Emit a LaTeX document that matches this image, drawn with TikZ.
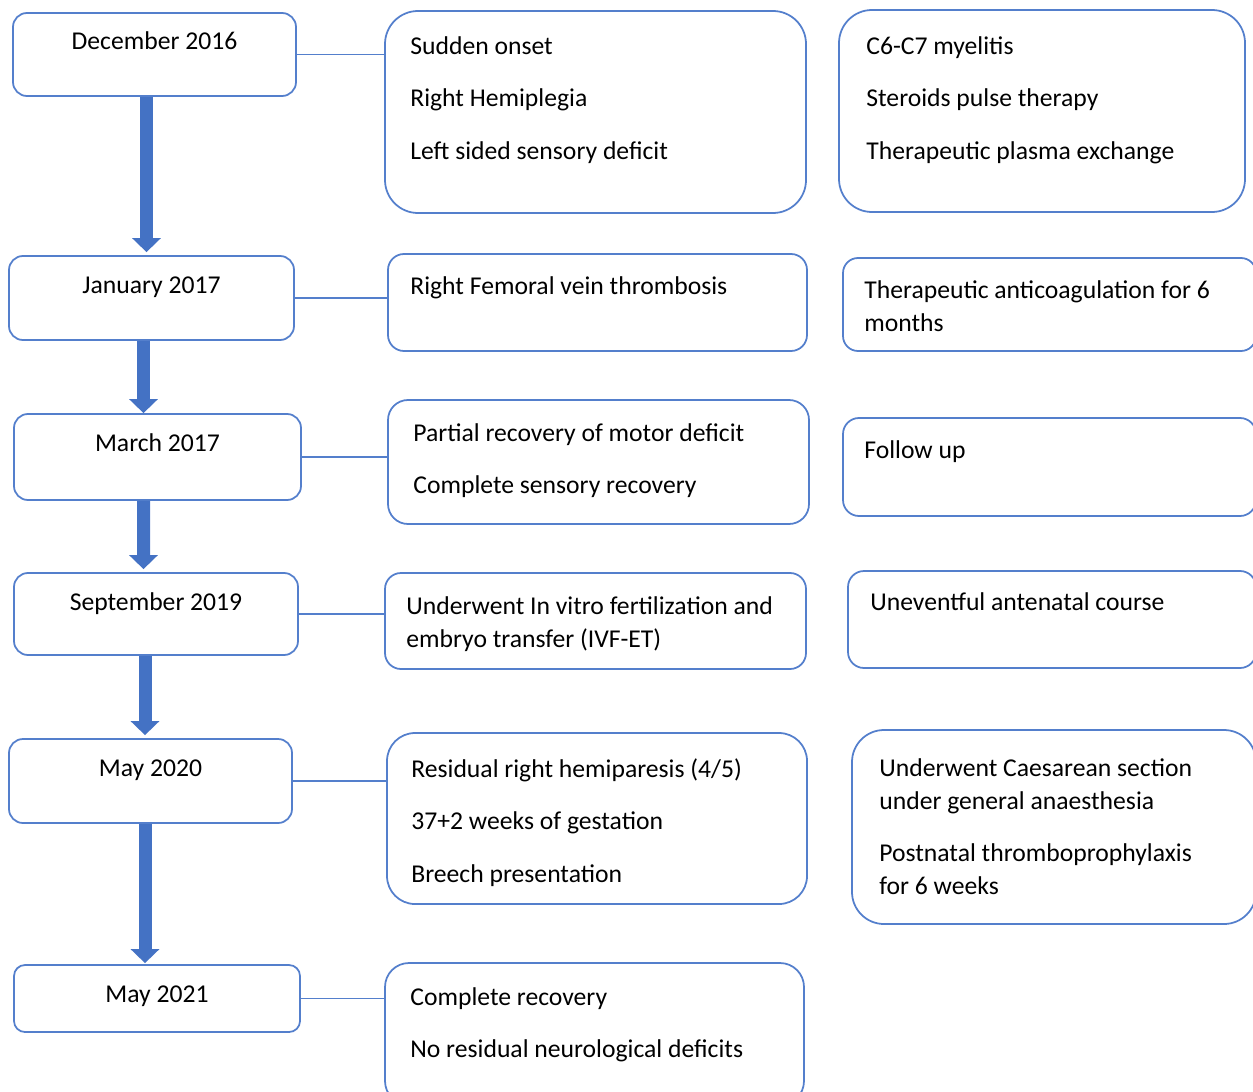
\documentclass[tikz,border=0pt]{standalone}
\usepackage{fontspec}
\setmainfont{Carlito}
\usetikzlibrary{arrows.meta,calc}
\newlength{\pxu}\setlength{\pxu}{0.02cm}
\definecolor{boxblue}{RGB}{84,127,204}
\definecolor{arrowblue}{RGB}{68,114,196}
\tikzset{
	datebox/.style={draw=boxblue, line width=1pt, rounded corners=14\pxu, inner sep=0pt, text height=37\pxu, font=\fontsize{14.6}{18.7}\selectfont},
	infobox/.style={draw=boxblue, line width=1pt, inner sep=0pt},
	infotext/.style={anchor=north west, inner sep=0pt, align=left, font=\fontsize{14.6}{18.7}\selectfont},
	link/.style={draw=boxblue, line width=0.9pt},
	flowarrow/.style={draw=arrowblue, line width=0.26cm, -{Triangle[width=0.56cm,length=0.28cm]}}
}
\begin{document}
\begin{tikzpicture}[x=0.02cm, y=-0.02cm]
			\useasboundingbox (0,0) rectangle (1253,1091);
			\clip (0,0) rectangle (1253,1091);
			
			%December 2016
			\node[datebox, minimum width=283\pxu, text depth=46\pxu] (d16) at (154.5,54.5) {December 2016};
			\node[infobox, minimum width=421\pxu, minimum height=202\pxu, rounded corners=33\pxu] (b1) at (595.5,112) {};
			\node[infotext] (b1t) at (410,36) {Sudden onset\\[11.3pt]Right Hemiplegia\\[11.3pt]Left sided sensory deficit};
			\node[infobox, minimum width=406\pxu, minimum height=202\pxu, rounded corners=33\pxu] (c1) at (1042,111) {};
			\node[infotext] (c1t) at (866,36) {C6-C7 myelitis\\[11.3pt]Steroids pulse therapy\\[11.3pt]Therapeutic plasma exchange};
			
			%January 2017
			\node[datebox, minimum width=285\pxu, text depth=47\pxu] (j17) at (151.5,298) {January 2017};
			\node[infobox, minimum width=419\pxu, minimum height=97\pxu, rounded corners=16\pxu] (b2) at (597.5,302.5) {};
			\node[infotext] (b2t) at (410,276) {Right Femoral vein thrombosis};
			\node[infobox, minimum width=413\pxu, minimum height=93\pxu, rounded corners=15\pxu] (c2) at (1049.5,304.5) {};
			\node[infotext] (c2t) at (864,280) {Therapeutic anticoagulation for 6\\months};
			
			%March 2017
			\node[datebox, minimum width=287\pxu, text depth=49\pxu] (m17) at (157.5,457) {March 2017};
			\node[infobox, minimum width=421\pxu, minimum height=124\pxu, rounded corners=20\pxu] (b3) at (598.5,462) {};
			\node[infotext] (b3t) at (413,423) {Partial recovery of motor deficit\\[11.3pt]Complete sensory recovery};
			\node[infobox, minimum width=413\pxu, minimum height=98\pxu, rounded corners=16\pxu] (c3) at (1049.5,467) {};
			\node[infotext] (c3t) at (864,440) {Follow up};
			
			%September 2019
			\node[datebox, minimum width=284\pxu, text depth=45\pxu] (s19) at (156,614) {September 2019};
			\node[infobox, minimum width=421\pxu, minimum height=96\pxu, rounded corners=16\pxu] (b4) at (595.5,621) {};
			\node[infotext] (b4t) at (406,596) {Underwent In vitro fertilization and\\embryo transfer (IVF-ET)};
			\node[infobox, minimum width=408\pxu, minimum height=97\pxu, rounded corners=16\pxu] (c4) at (1052,619.5) {};
			\node[infotext] (c4t) at (870,592) {Uneventful antenatal course};
			
			%May 2020
			\node[datebox, minimum width=283\pxu, text depth=47\pxu] (m20) at (150.5,781) {May 2020};
			\node[infobox, minimum width=420\pxu, minimum height=171\pxu, rounded corners=28\pxu] (b5) at (597,818.5) {};
			\node[infotext] (b5t) at (411,758) {Residual right hemiparesis (4/5)\\[11.3pt]37+2 weeks of gestation\\[11.3pt]Breech presentation};
			\node[infobox, minimum width=404\pxu, minimum height=194\pxu, rounded corners=32\pxu] (c5) at (1054,827) {};
			\node[infotext] (c5t) at (879,758) {Underwent Caesarean section\\under general anaesthesia\\[11.3pt]Postnatal thromboprophylaxis\\for 6 weeks};
			
			%May 2021
			\node[datebox, minimum width=286\pxu, text depth=30\pxu, rounded corners=11\pxu] (m21) at (157,998.5) {May 2021};
			\node[infobox, minimum width=419\pxu, minimum height=142\pxu, rounded corners=24\pxu] (b6) at (594.5,1034) {};
			\node[infotext] (b6t) at (410,987) {Complete recovery\\[11.3pt]No residual neurological deficits};
			
			%links
			\draw[link] (d16.east) -- (d16.east -| b1.west);
			\draw[link] (j17.east) -- (j17.east -| b2.west);
			\draw[link] (m17.east) -- (m17.east -| b3.west);
			\draw[link] (s19.east) -- (s19.east -| b4.west);
			\draw[link] (m20.east) -- (m20.east -| b5.west);
			\draw[link] (m21.east) -- (m21.east -| b6.west);
			
			%timeline arrows
			\draw[flowarrow] ($(d16.south)+(-8,0)$) -- ($(j17.north)+(-5,-3)$);
			\draw[flowarrow] ($(j17.south)+(-8,0)$) -- ($(m17.north)+(-14,0)$);
			\draw[flowarrow] ($(m17.south)+(-14,0)$) -- ($(s19.north)+(-12.5,-3)$);
			\draw[flowarrow] ($(s19.south)+(-11,0)$) -- ($(m20.north)+(-5.5,-3)$);
			\draw[flowarrow] ($(m20.south)+(-5.5,0)$) -- ($(m21.north)+(-12,-1)$);
			
		\end{tikzpicture}
\end{document}
